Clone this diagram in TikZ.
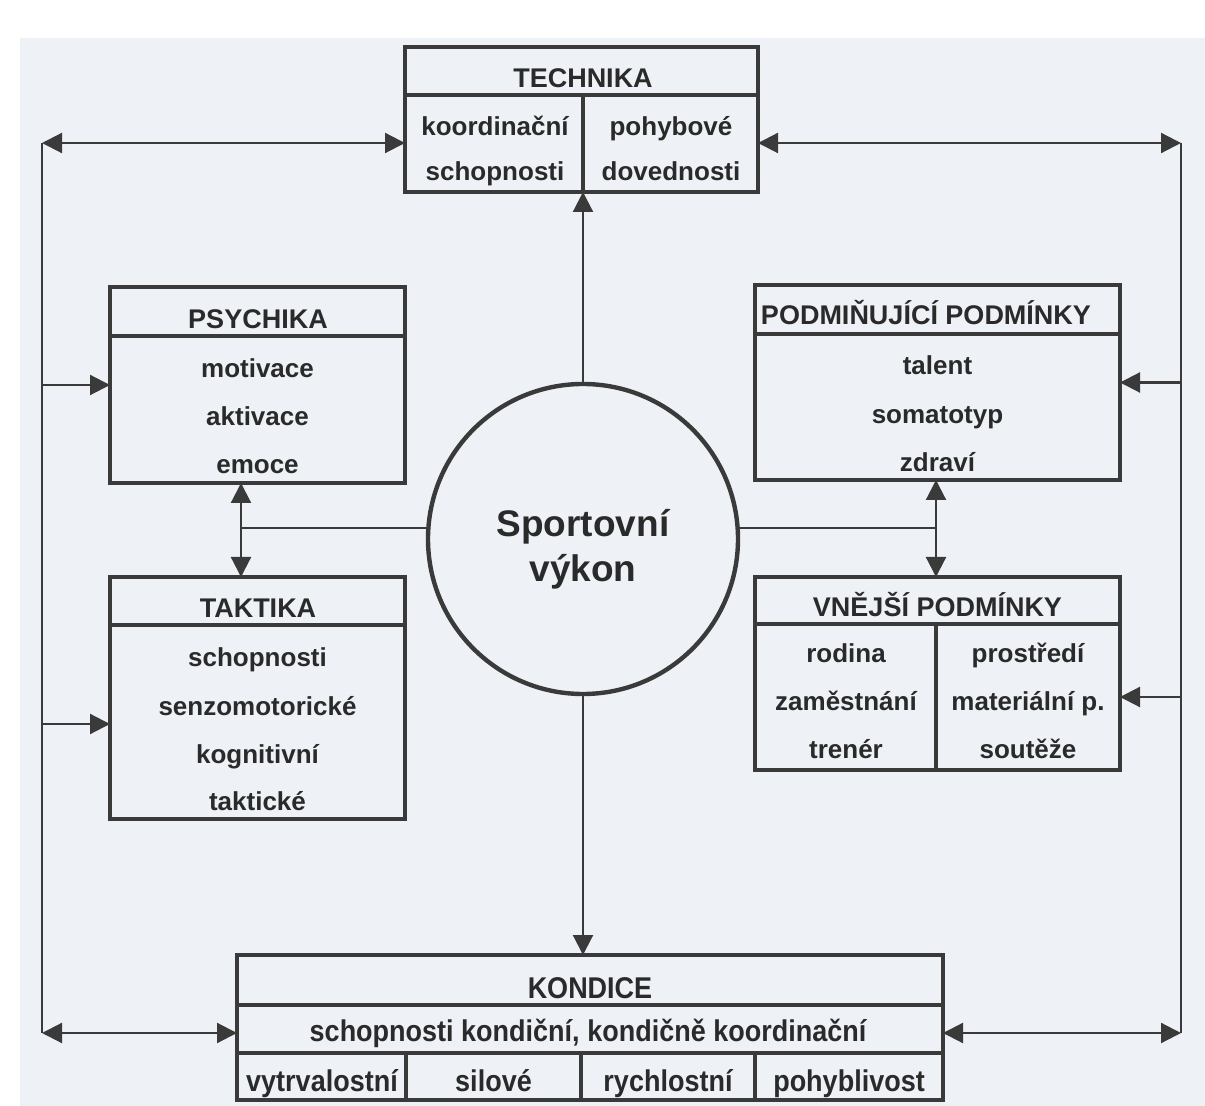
\documentclass[tikz,border=0pt]{standalone}
\usepackage{fontspec}
\setmainfont{Liberation Sans}
\usetikzlibrary{arrows.meta}
\definecolor{ink}{HTML}{3A3A3A}
\definecolor{txt}{HTML}{2A2A2A}
\definecolor{paper}{HTML}{EEF2F6}
\newcommand{\narrowtxt}[1]{\scalebox{0.9}[1]{#1}}
\begin{document}
\begin{tikzpicture}[x=0.5pt,y=-0.5pt,
  box/.style={draw=ink, line width=2.2pt, rectangle, inner sep=0pt, outer sep=0pt},
  sep/.style={draw=ink, line width=2.2pt},
  conn/.style={draw=ink, line width=1.1pt},
  arr/.style={-{Triangle[length=10pt,width=10pt]}},
  darr/.style={{Triangle[length=10pt,width=10pt]}-{Triangle[length=10pt,width=10pt]}},
  lbl/.style={text=txt, font=\fontsize{13}{15}\selectfont\bfseries, inner sep=0pt, anchor=base},
  ttl/.style={text=txt, font=\fontsize{13.5}{15}\selectfont\bfseries, inner sep=0pt, anchor=base},
  klbl/.style={text=txt, font=\fontsize{15}{17}\selectfont\bfseries, inner sep=0pt, anchor=base},
  big/.style={text=txt, font=\fontsize{18.5}{22}\selectfont\bfseries, inner sep=0pt, anchor=base}
]
\useasboundingbox (0,0) rectangle (1205,1106);
\fill[white] (0,0) rectangle (1205,1106);
\fill[paper] (20,38) rectangle (1205,1106);

% boxes
\node[box, minimum width=176.5pt, minimum height=72.5pt] (tech) at (581.5,119.5) {};
\node[box, minimum width=147.5pt, minimum height=98pt] (psy) at (257.5,385) {};
\node[box, minimum width=147.5pt, minimum height=121pt] (tak) at (257.5,698) {};
\node[box, minimum width=182.5pt, minimum height=97.5pt] (podm) at (937.5,382.5) {};
\node[box, minimum width=182.5pt, minimum height=96.5pt] (vne) at (937.5,673.5) {};
\node[box, minimum width=353pt, minimum height=72.5pt] (kon) at (590,1027.5) {};
\node[draw=ink, line width=2.2pt, circle, minimum size=155pt, inner sep=0pt, outer sep=0pt] (circ) at (583,539) {};

% dividers
\draw[sep] (405,95) -- (758,95);
\draw[sep] (583,95) -- (583,192);
\draw[sep] (110,336) -- (405,336);
\draw[sep] (110,625) -- (405,625);
\draw[sep] (755,334) -- (1120,334);
\draw[sep] (755,624) -- (1120,624);
\draw[sep] (936,624) -- (936,770);
\draw[sep] (237,1005) -- (943,1005);
\draw[sep] (237,1053) -- (943,1053);
\draw[sep] (406,1053) -- (406,1100);
\draw[sep] (581,1053) -- (581,1100);
\draw[sep] (755,1053) -- (755,1100);

% texts
\node[ttl] (techT) at (583,88) {TECHNIKA};
\node[lbl] (tech1) at (495,136) {koordinační};
\node[lbl] (tech2) at (495,181) {schopnosti};
\node[lbl] (tech3) at (671,136) {pohybové};
\node[lbl] (tech4) at (671,181) {dovednosti};

\node[ttl] (psyT) at (258,329) {PSYCHIKA};
\node[lbl] (psy1) at (257.5,378) {motivace};
\node[lbl] (psy2) at (257.5,426) {aktivace};
\node[lbl] (psy3) at (257.5,474) {emoce};

\node[ttl] (takT) at (258,618) {TAKTIKA};
\node[lbl] (tak1) at (257.5,667) {schopnosti};
\node[lbl] (tak2) at (257.5,715) {senzomotorické};
\node[lbl] (tak3) at (257.5,763) {kognitivní};
\node[lbl] (tak4) at (257.5,810) {taktické};

\node[ttl] (podmT) at (926,325) {PODMIŇUJÍCÍ PODMÍNKY};
\node[lbl] (podm1) at (937.5,375) {talent};
\node[lbl] (podm2) at (937.5,424) {somatotyp};
\node[lbl] (podm3) at (937.5,472) {zdraví};

\node[ttl] (vneT) at (937.5,617) {VNĚJŠÍ PODMÍNKY};
\node[lbl] (vne1) at (846,663) {rodina};
\node[lbl] (vne2) at (846,711) {zaměstnání};
\node[lbl] (vne3) at (846,758) {trenér};
\node[lbl] (vne4) at (1028,663) {prostředí};
\node[lbl] (vne5) at (1028,711) {materiální p.};
\node[lbl] (vne6) at (1028,758) {soutěže};

\node[klbl] (konT) at (590,998) {\narrowtxt{KONDICE}};
\node[klbl] (kon1) at (588,1041) {\narrowtxt{schopnosti kondiční, kondičně koordinační}};
\node[klbl] (kon2) at (322,1091) {\narrowtxt{vytrvalostní}};
\node[klbl] (kon3) at (493.5,1091) {\narrowtxt{silové}};
\node[klbl] (kon4) at (668,1091) {\narrowtxt{rychlostní}};
\node[klbl] (kon5) at (849,1091) {\narrowtxt{pohyblivost}};

\node[big] (sv1) at (583,537) {Sportovní};
\node[big] (sv2) at (583,582) {výkon};

% connectors
\coordinate (tl) at (42,143);
\coordinate (tr) at (1181,143);
\coordinate (bl) at (42,1033);
\coordinate (br) at (1181,1033);
\coordinate (ta) at (42,724);
\coordinate (va) at (1181,697);
\coordinate (lm) at (241,528);
\coordinate (rm) at (936,528);

\draw[conn] (tl) -- (bl);
\draw[conn] (tr) -- (br);
\draw[conn,darr] (tl) -- (tech.west |- tl);
\draw[conn,darr] (tech.east |- tr) -- (tr);
\draw[conn,arr] (tl |- psy.west) -- (psy.west);
\draw[conn,arr] (ta) -- (tak.west |- ta);
\draw[conn,arr] (tr |- podm.east) -- (podm.east);
\draw[conn,arr] (va) -- (vne.east |- va);
\draw[conn,darr] (bl) -- (kon.west |- bl);
\draw[conn,darr] (kon.east |- br) -- (br);
\draw[conn,arr] (circ.north) -- (circ.north |- tech.south);
\draw[conn,arr] (circ.south) -- (circ.south |- kon.north);
\draw[conn] (lm) -- (lm -| circ.west);
\draw[conn,darr] (lm |- psy.south) -- (lm |- tak.north);
\draw[conn] (rm) -- (rm -| circ.east);
\draw[conn,darr] (rm |- podm.south) -- (rm |- vne.north);
\end{tikzpicture}
\end{document}
